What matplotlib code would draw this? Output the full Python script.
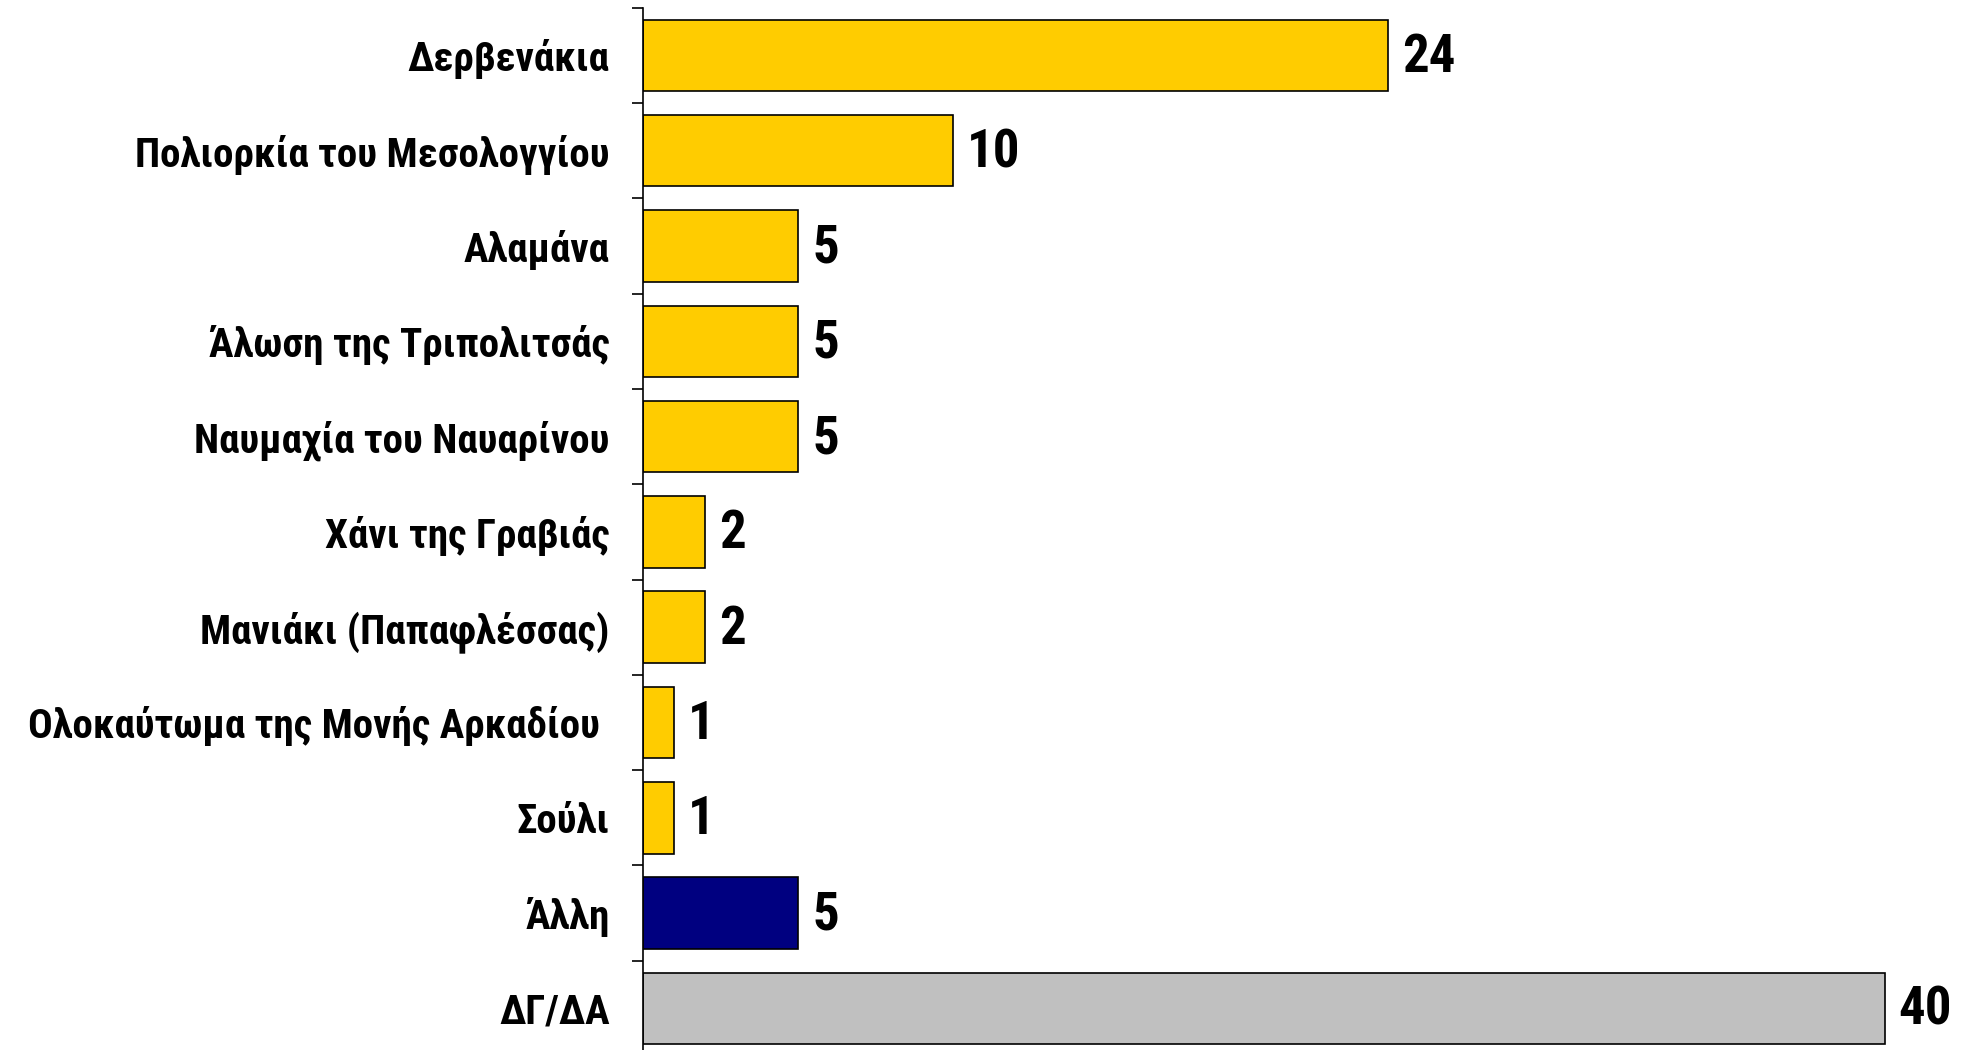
import matplotlib
matplotlib.use("Agg")
import matplotlib.pyplot as plt
from matplotlib.ticker import FixedLocator

categories = [
    "Δερβενάκια",
    "Πολιορκία του Μεσολογγίου",
    "Αλαμάνα",
    "Άλωση της Τριπολιτσάς",
    "Ναυμαχία του Ναυαρίνου",
    "Χάνι της Γραβιάς",
    "Μανιάκι (Παπαφλέσσας)",
    "Ολοκαύτωμα της Μονής Αρκαδίου ",
    "Σούλι",
    "Άλλη",
    "ΔΓ/ΔΑ",
]
values = [24, 10, 5, 5, 5, 2, 2, 1, 1, 5, 40]
colors = ["#FFCC00"] * 9 + ["#000080", "#C0C0C0"]

FAM = ["Roboto Condensed", "DejaVu Sans"]
plt.rcParams["font.family"] = FAM

fig = plt.figure(figsize=(19.62, 10.5), dpi=100)
ax = fig.add_axes([643 / 1962, 0.0, 1303.7 / 1962, 1 - 7.8 / 1050])

y = list(range(len(categories)))
ax.barh(y, values, height=0.75, color=colors, edgecolor="black", linewidth=1.2)

ax.set_xlim(0, 42)
ax.set_ylim(10.437, -0.5)

for yi, v in zip(y, values):
    ax.text(v + 0.45, yi + 0.02, str(v), va="center", ha="left", fontsize=38,
            fontweight="bold", family=FAM)

ax.set_yticks(y)
ax.set_yticklabels(categories, fontsize=29.5, fontweight="bold", family=FAM)
ax.tick_params(axis="y", which="major", length=0, pad=24)
ax.yaxis.set_minor_locator(FixedLocator([i - 0.5 for i in range(len(categories) + 1)]))
ax.tick_params(axis="y", which="minor", length=8, width=1.2, direction="out")
ax.set_xticks([])

for s in ["top", "right", "bottom"]:
    ax.spines[s].set_visible(False)
ax.spines["left"].set_linewidth(1.2)

fig.savefig("out.png", dpi=100)
